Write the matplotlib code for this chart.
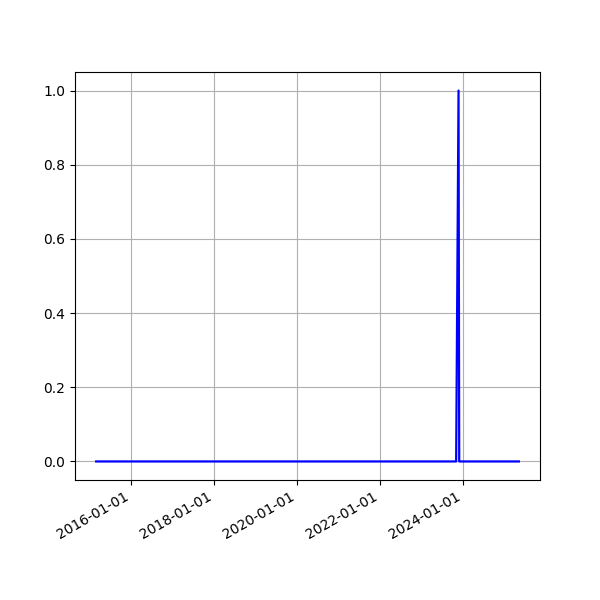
import matplotlib
matplotlib.use("Agg")
import matplotlib.dates as mdates
import matplotlib.pyplot as plt
import pandas as pd

# ── Data ──────────────────────────────────────────────
dates = ["2015-03-01", "2023-11-03", "2023-11-24", "2023-11-30", "2025-05-08"]
values = [0, 0, 1, 0, 0]

x = pd.to_datetime(dates)

fig, ax = plt.subplots(figsize=(6, 6), dpi=100)
ax.plot(x, values, color="blue", linewidth=1.6)

ax.xaxis.set_major_locator(mdates.YearLocator(2))
ax.xaxis.set_major_formatter(mdates.DateFormatter("%Y-%m-%d"))
ax.grid(True)
fig.autofmt_xdate()

fig.savefig("out.png", dpi=100)
